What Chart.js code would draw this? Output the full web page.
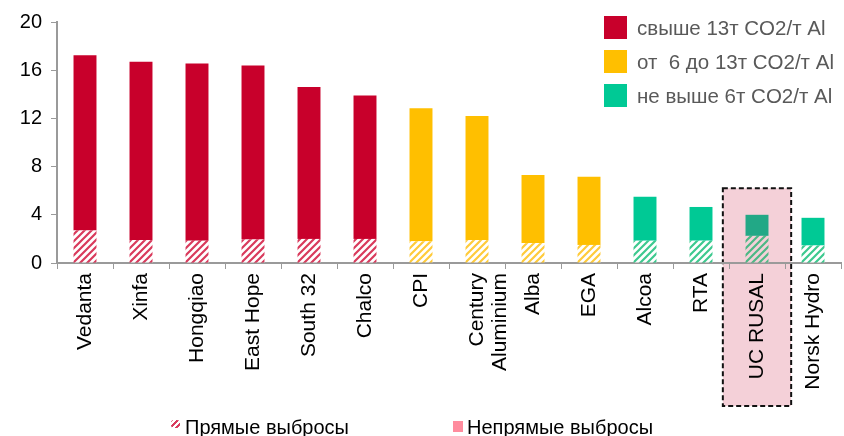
<!DOCTYPE html>
<html>
<head>
<meta charset="utf-8">
<script src="https://cdn.jsdelivr.net/npm/chart.js@4.4.1/dist/chart.umd.min.js"></script>
<style>
body{margin:0;background:#fff;font-family:"Liberation Sans",Arial,sans-serif;}
#wrap{position:relative;width:844px;height:436px;overflow:hidden;}
#c{position:absolute;left:0;top:0;}
.lg{position:absolute;white-space:pre;}
.sw{position:absolute;display:block;}
</style>
</head>
<body>
<div id="wrap">
<canvas id="c" width="844" height="436"></canvas>
<span class="sw" style="left:604px;top:16px;width:23px;height:23px;background:#C8002B"></span>
<span class="lg" style="left:637px;top:16px;line-height:23px;font-size:20.5px;color:#595959">свыше 13т CO2/т Al</span>
<span class="sw" style="left:604px;top:50px;width:23px;height:23px;background:#FFBF00"></span>
<span class="lg" style="left:637px;top:50px;line-height:23px;font-size:20.5px;color:#595959">от  6 до 13т CO2/т Al</span>
<span class="sw" style="left:604px;top:84px;width:23px;height:23px;background:#00C995"></span>
<span class="lg" style="left:637px;top:84px;line-height:23px;font-size:20.5px;color:#595959">не выше 6т CO2/т Al</span>
<span class="sw" style="left:171px;top:420px;width:9px;height:8px;border-radius:3px;background:repeating-linear-gradient(135deg,#D93A5C 0 2px,#fff 2px 4px)"></span>
<span class="lg" style="left:185px;top:416px;line-height:22px;font-size:20px;color:#000">Прямые выбросы</span>
<span class="sw" style="left:453px;top:421px;width:10px;height:11px;background:#FF8C9E"></span>
<span class="lg" style="left:467px;top:416px;line-height:22px;font-size:20px;color:#000">Непрямые выбросы</span>
</div>
<script>
var labels=['Vedanta','Xinfa','Hongqiao','East Hope','South 32','Chalco','CPI',['Century','Aluminium'],'Alba','EGA','Alcoa','RTA','UC RUSAL','Norsk Hydro'];
// прямые выбросы (штриховка)
var direct=[2.7,1.9,1.85,1.95,2.0,2.0,1.8,1.9,1.65,1.5,1.85,1.85,2.25,1.45];
// непрямые выбросы (сплошная часть)
var indirect=[14.55,14.8,14.7,14.45,12.6,11.9,11.05,10.3,5.65,5.65,3.65,2.8,1.75,2.3];
var groups=['high','high','high','high','high','high','mid','mid','mid','mid','low','low','low','low'];
var yTicks=[0,4,8,12,16,20];
var highlight=12; // UC RUSAL

var solid={high:'#C8002B',mid:'#FFBF00',low:'#00C995'};
var stripe={high:'#D93A5C',mid:'#FFCB3A',low:'#3DC98F'};

function hatch(color,bg){
	var s=7;
	var c=document.createElement('canvas');
	c.width=s;c.height=s;
	var x=c.getContext('2d');
	x.fillStyle=bg;x.fillRect(0,0,s,s);
	x.strokeStyle=color;x.lineWidth=2.2;
	x.beginPath();
	x.moveTo(-1,s+1);x.lineTo(s+1,-1);
	x.moveTo(-2,2);x.lineTo(2,-2);
	x.moveTo(s-2,s+2);x.lineTo(s+2,s-2);
	x.stroke();
	return x.createPattern(c,'repeat');
}

var directColors=[],indirectColors=[];
for(var i=0;i<labels.length;i++){
	if(i==highlight){
		directColors.push(hatch('#4DB885','#F4D0D8'));
		indirectColors.push('#22A886');
	}else{
		directColors.push(hatch(stripe[groups[i]],'#ffffff'));
		indirectColors.push(solid[groups[i]]);
	}
}

var boxPlugin={
	id:'box',
	beforeDraw:function(chart){
		var ctx=chart.ctx,xs=chart.scales.x,ys=chart.scales.y;
		var cx=xs.getPixelForValue(highlight);
		var half=xs.width/labels.length*0.61;
		var top=ys.getPixelForValue(6.2);
		var bottom=406;
		ctx.save();
		ctx.fillStyle='#F4D0D8';
		ctx.fillRect(cx-half,top,half*2,bottom-top);
		ctx.setLineDash([5,3]);
		ctx.lineWidth=2;
		ctx.strokeStyle='#111';
		ctx.strokeRect(cx-half,top,half*2,bottom-top);
		ctx.restore();
	}
};

Chart.defaults.font.family='"Liberation Sans", Arial, sans-serif';
Chart.defaults.color='#000';

new Chart(document.getElementById('c').getContext('2d'),{
	type:'bar',
	data:{
		labels:labels,
		datasets:[{
			label:'Прямые выбросы',
			data:direct,
			backgroundColor:directColors,
			categoryPercentage:1,
			barPercentage:0.41
		},{
			label:'Непрямые выбросы',
			data:indirect,
			backgroundColor:indirectColors,
			categoryPercentage:1,
			barPercentage:0.41
		}]
	},
	options:{
		responsive:false,
		animation:false,
		layout:{padding:{top:22,right:3,left:0,bottom:0}},
		plugins:{legend:{display:false},tooltip:{enabled:false}},
		scales:{
			x:{
				stacked:true,
				grid:{drawOnChartArea:false,drawTicks:true,tickLength:6,offset:true,color:'#9a9a9a'},
				border:{color:'#9a9a9a',width:2},
				ticks:{minRotation:90,maxRotation:90,padding:4,autoSkip:false,font:{size:21,lineHeight:1.1}},
				afterFit:function(s){s.height=173;}
			},
			y:{
				stacked:true,
				min:0,max:20,
				afterBuildTicks:function(s){s.ticks=yTicks.map(function(v){return {value:v};});},
				grid:{drawOnChartArea:false,drawTicks:true,tickLength:6,color:'#9a9a9a'},
				border:{color:'#9a9a9a',width:2},
				ticks:{padding:9,font:{size:20}},
				afterFit:function(s){s.width=57;}
			}
		}
	},
	plugins:[boxPlugin]
});
</script>
</body>
</html>
